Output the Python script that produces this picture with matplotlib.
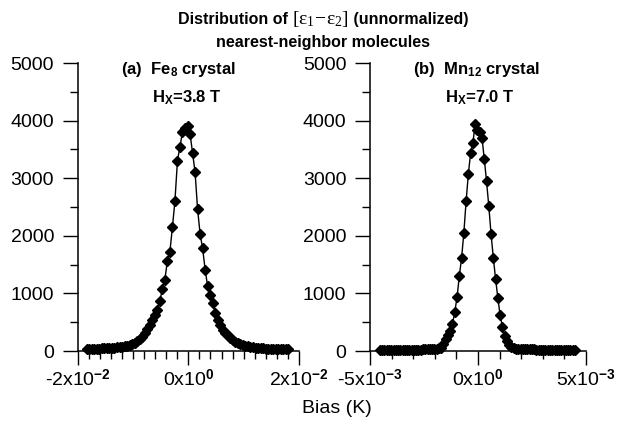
import matplotlib
matplotlib.use("Agg")
import matplotlib.pyplot as plt
from matplotlib.ticker import MultipleLocator
from matplotlib.offsetbox import TextArea, HPacker, AnchoredOffsetbox

plt.rcParams['font.family'] = ['Liberation Sans', 'DejaVu Sans']
plt.rcParams['mathtext.fontset'] = 'custom'
plt.rcParams['mathtext.rm'] = 'Liberation Serif'
plt.rcParams['mathtext.it'] = 'Liberation Serif:italic'
plt.rcParams['mathtext.bf'] = 'Liberation Sans:bold'
plt.rcParams['mathtext.sf'] = 'Liberation Sans'

# ---------------- data: (a) Fe8 crystal, Hx = 3.8 T ----------------
fe8_bias = [
    -0.01835, -0.01790, -0.01744, -0.01699, -0.01653, -0.01608, -0.01562, -0.01517,
    -0.01471, -0.01426, -0.01380, -0.01335, -0.01289, -0.01244, -0.01198, -0.01153,
    -0.01107, -0.01062, -0.01016, -0.00971, -0.00925, -0.00880, -0.00834, -0.00789,
    -0.00743, -0.00698, -0.00652, -0.00607, -0.00561, -0.00516, -0.00470, -0.00425,
    -0.00379, -0.00334, -0.00288, -0.00243, -0.00197, -0.00152, -0.00106, -0.00061,
    -0.00015, 0.00031, 0.00076, 0.00122, 0.00167, 0.00213, 0.00258, 0.00304,
    0.00349, 0.00395, 0.00440, 0.00486, 0.00531, 0.00577, 0.00622, 0.00668,
    0.00713, 0.00759, 0.00804, 0.00850, 0.00895, 0.00941, 0.00986, 0.01032,
    0.01077, 0.01123, 0.01168, 0.01214, 0.01259, 0.01305, 0.01350, 0.01396,
    0.01441, 0.01487, 0.01532, 0.01578, 0.01623, 0.01669, 0.01714, 0.01760,
    0.01805,
]
fe8_count = [
    32, 34, 36, 38, 40, 42, 44, 46,
    48, 52, 55, 60, 65, 70, 78, 85,
    95, 110, 125, 145, 170, 200, 245, 310,
    380, 450, 540, 620, 720, 870, 1070, 1240,
    1560, 1720, 2150, 2600, 3300, 3550, 3800, 3870,
    3900, 3770, 3440, 3100, 2460, 2030, 1780, 1410,
    1120, 975, 830, 660, 540, 450, 370, 315,
    270, 230, 190, 165, 140, 125, 110, 95,
    80, 72, 65, 58, 52, 48, 45, 42,
    40, 38, 36, 35, 33, 32, 30, 29,
    28,
]

# ---------------- data: (b) Mn12 crystal, Hx = 7.0 T ----------------
mn12_bias = [
    -0.004540, -0.004435, -0.004330, -0.004225, -0.004120, -0.004015, -0.003910, -0.003805,
    -0.003700, -0.003595, -0.003490, -0.003385, -0.003280, -0.003175, -0.003070, -0.002965,
    -0.002860, -0.002755, -0.002650, -0.002545, -0.002440, -0.002335, -0.002230, -0.002125,
    -0.002020, -0.001915, -0.001810, -0.001705, -0.001600, -0.001495, -0.001390, -0.001285,
    -0.001180, -0.001075, -0.000970, -0.000865, -0.000760, -0.000655, -0.000550, -0.000445,
    -0.000340, -0.000235, -0.000130, -0.000025, 0.000080, 0.000185, 0.000290, 0.000395,
    0.000500, 0.000605, 0.000710, 0.000815, 0.000920, 0.001025, 0.001130, 0.001235,
    0.001340, 0.001445, 0.001550, 0.001655, 0.001760, 0.001865, 0.001970, 0.002075,
    0.002180, 0.002285, 0.002390, 0.002495, 0.002600, 0.002705, 0.002810, 0.002915,
    0.003020, 0.003125, 0.003230, 0.003335, 0.003440, 0.003545, 0.003650, 0.003755,
    0.003860, 0.003965, 0.004070, 0.004175, 0.004280, 0.004385, 0.004490,
]
mn12_count = [
    15, 15, 16, 16, 17, 17, 18, 18,
    19, 19, 20, 20, 21, 21, 22, 23,
    24, 25, 26, 27, 28, 30, 32, 34,
    37, 40, 44, 50, 120, 210, 270, 350,
    470, 680, 930, 1300, 1610, 2050, 2600, 3080,
    3440, 3610, 3950, 3840, 3800, 3700, 3340, 2950,
    2520, 2030, 1620, 1250, 920, 620, 420, 260,
    170, 100, 70, 50, 42, 38, 35, 33,
    31, 30, 29, 28, 27, 26, 25, 24,
    23, 23, 22, 22, 21, 21, 20, 20,
    19, 19, 18, 18, 17, 17, 16,
]

left_xticks = [-0.02, 0.0, 0.02]
left_xticklabels = [r"-2x10$^{\mathbf{-2}}$", r"0x10$^{\mathbf{0}}$", r"2x10$^{\mathbf{-2}}$"]
right_xticks = [-0.005, 0.0, 0.005]
right_xticklabels = [r"-5x10$^{\mathbf{-3}}$", r"0x10$^{\mathbf{0}}$", r"5x10$^{\mathbf{-3}}$"]
yticks = [0, 1000, 2000, 3000, 4000, 5000]

fig = plt.figure(figsize=(6.21, 4.25), dpi=100)
ax1 = fig.add_axes([0.1251, 0.1741, 0.3564, 0.6776])
ax2 = fig.add_axes([0.5958, 0.1741, 0.3478, 0.6776])


def style(ax, xlim, xticks, xlabels, xminor):
    ax.set_xlim(*xlim)
    ax.set_ylim(0, 5000)
    for s in ("top", "right"):
        ax.spines[s].set_visible(False)
    for s in ("left", "bottom"):
        ax.spines[s].set_linewidth(1.1)
    ax.set_xticks(xticks)
    ax.set_xticklabels(xlabels)
    ax.xaxis.set_minor_locator(MultipleLocator(xminor))
    ax.set_yticks(yticks)
    ax.set_yticklabels([str(v) for v in yticks])
    ax.yaxis.set_minor_locator(MultipleLocator(500))
    ax.tick_params(axis="both", which="major", direction="out", width=1.0,
                   labelsize=14)
    ax.tick_params(axis="x", which="major", length=10, pad=3)
    ax.tick_params(axis="y", which="major", length=11, pad=6)
    ax.tick_params(axis="x", which="minor", direction="out", length=5.5, width=1.0)
    ax.tick_params(axis="y", which="minor", direction="out", length=5.5, width=1.0)
    ax.patch.set_visible(False)


style(ax1, (-0.02, 0.02), left_xticks, left_xticklabels, 0.002)
style(ax2, (-0.005, 0.005), right_xticks, right_xticklabels, 0.001)

for ax, x, y in ((ax1, fe8_bias, fe8_count), (ax2, mn12_bias, mn12_count)):
    ax.plot(x, y, color="black", linewidth=1.0, marker="D", markersize=5,
            markerfacecolor="black", markeredgecolor="black", clip_on=False)

# title line 1: bold sans text with a serif [e1 - e2] part
bold = dict(fontsize=11.5, fontweight="bold")
title_box = HPacker(children=[
    TextArea("Distribution of ", textprops=bold),
    TextArea(r"$\mathrm{[\varepsilon_1\!-\!\varepsilon_2]}$", textprops=dict(fontsize=14)),
    TextArea(" (unnormalized)", textprops=bold),
], align="baseline", pad=0, sep=0)
fig.add_artist(AnchoredOffsetbox(loc="center", child=title_box, pad=0, borderpad=0,
                                 frameon=False, bbox_to_anchor=(0.52, 0.955),
                                 bbox_transform=fig.transFigure))
fig.text(0.52, 0.900, "nearest-neighbor molecules",
         ha="center", va="center", fontsize=11.5, fontweight="bold")

fig.text(0.288, 0.836, r"(a)  Fe$_{\mathbf{8}}$ crystal", ha="center", va="center",
         fontsize=12, fontweight="bold")
fig.text(0.301, 0.769, r"H$_{\mathbf{X}}$=3.8 T", ha="center", va="center",
         fontsize=12, fontweight="bold")
fig.text(0.767, 0.836, r"(b)  Mn$_{\mathbf{12}}$ crystal", ha="center", va="center",
         fontsize=12, fontweight="bold")
fig.text(0.773, 0.769, r"H$_{\mathbf{X}}$=7.0 T", ha="center", va="center",
         fontsize=12, fontweight="bold")

fig.text(0.543, 0.038, "Bias (K)", ha="center", va="center", fontsize=14)

fig.savefig("out.png", dpi=100)
